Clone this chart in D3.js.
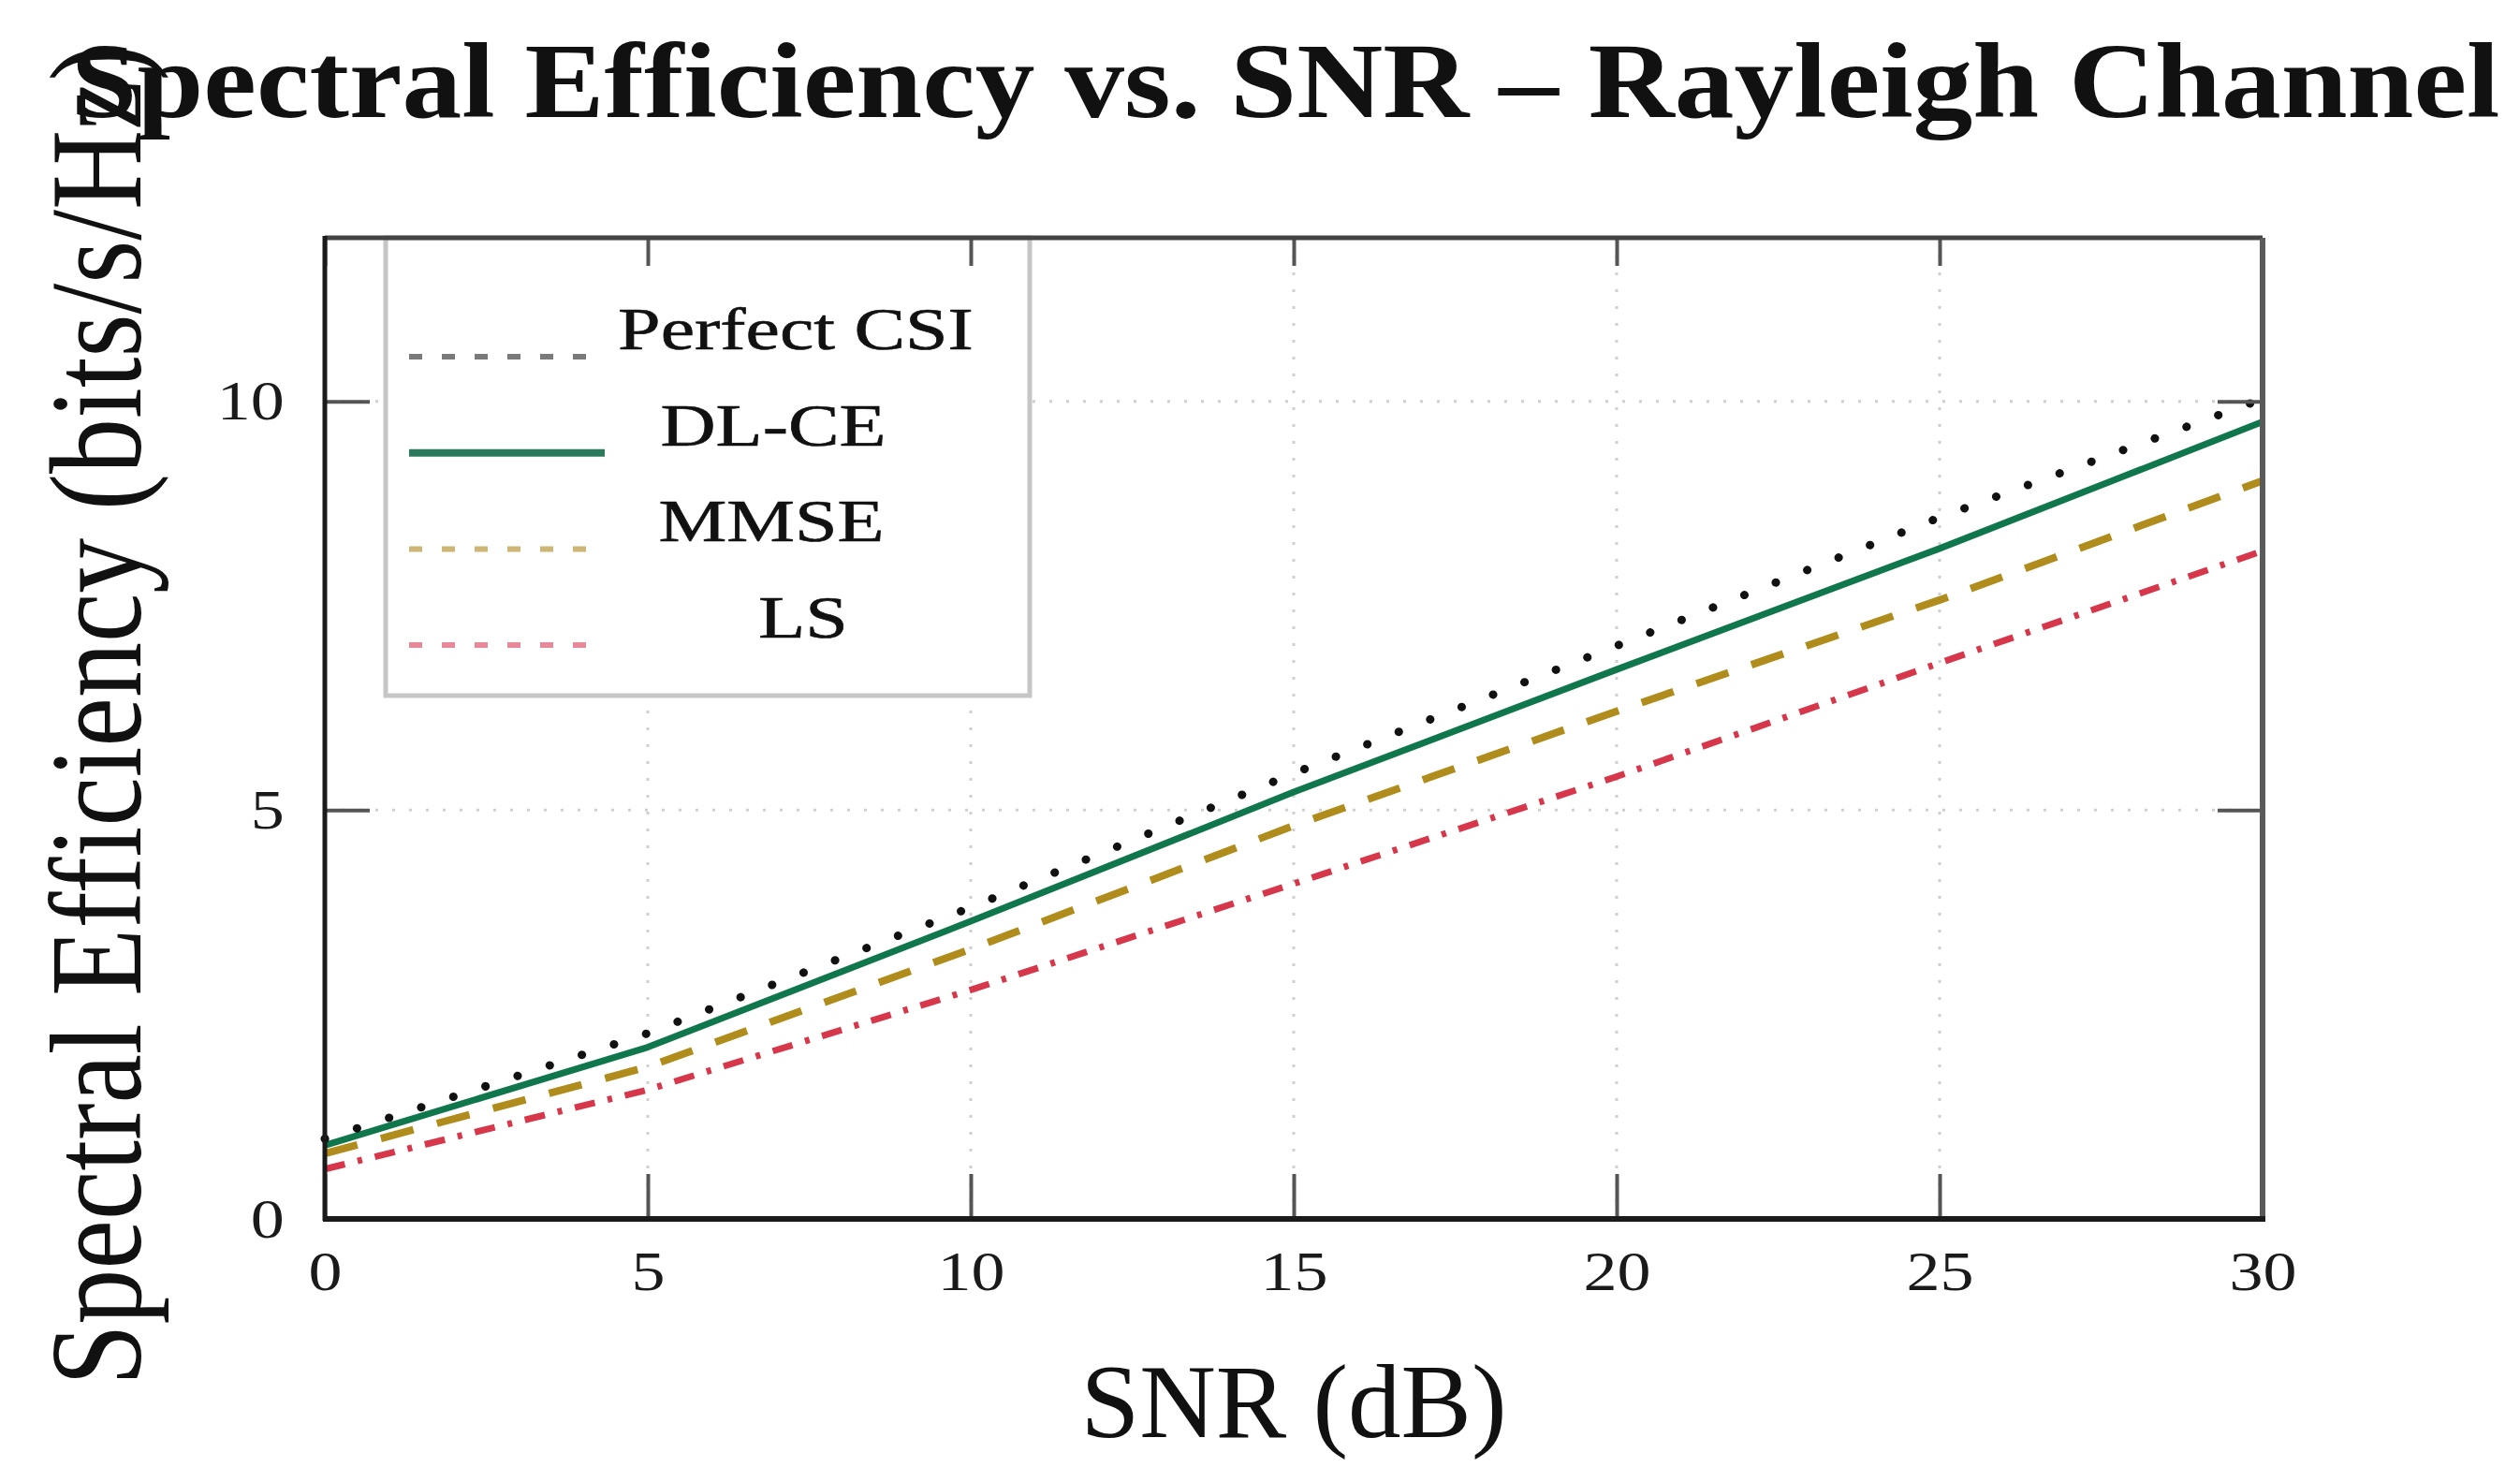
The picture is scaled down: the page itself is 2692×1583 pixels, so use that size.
<!DOCTYPE html>
<html>
<head>
<meta charset="utf-8">
<script src="https://cdn.jsdelivr.net/npm/d3@7"></script>
<style>
  html, body { margin: 0; padding: 0; background: #fff; }
  svg { display: block; }
</style>
</head>
<body>
<div id="chart"></div>
<script>
// data (SNR in dB, spectral efficiency in bits/s/Hz)
let snr = [0, 5, 10, 15, 20, 25, 30];
let perfect_csi = [0.98, 2.27, 3.81, 5.45, 7.01, 8.58, 10.03];
let dl_ce = [0.90, 2.10, 3.64, 5.22, 6.72, 8.20, 9.75];
let mmse = [0.80, 1.86, 3.30, 4.81, 6.21, 7.57, 9.03];
let ls = [0.61, 1.58, 2.80, 4.10, 5.41, 6.80, 8.17];

let series_names = ["Perfect CSI", "DL-CE", "MMSE", "LS"];
let x_ticks = [0, 5, 10, 15, 20, 25, 30];
let y_ticks = [0, 5, 10];

let title_text = "Spectral Efficiency vs. SNR \u2013 Rayleigh Channel";
let x_label = "SNR (dB)";
let y_label = "Spectral Efficiency (bits/s/Hz)";

let W = 2692, H = 1583;
let margin = {top: 254, right: 275, bottom: 281, left: 347};
let serif = "'Liberation Serif', 'Times New Roman', serif";

// line styles per series
let styles = [
  {color: "#111111", width: 9, dash: "0.1 36", cap: "round", legendColor: "#7a7a7a", legendDash: "14 21"},
  {color: "#10764c", width: 7, dash: null, cap: "butt", legendColor: "#2c7a5c", legendDash: null},
  {color: "#b08c1c", width: 8, dash: "36 26", cap: "butt", legendColor: "#cdb676", legendDash: "14 21"},
  {color: "#d7374a", width: 7, dash: "22 14 5 14", cap: "butt", legendColor: "#e8899a", legendDash: "14 21"}
];
// legend label centres (the labels are not quite aligned in the original)
let legend_text_x = [850, 826, 824, 858];

let svg = d3.select("#chart").append("svg")
  .attr("width", W).attr("height", H)
  .style("background", "#fff");

let x = d3.scaleLinear().domain([0, 30]).range([margin.left, W - margin.right]);
let y = d3.scaleLinear().domain([0, 12]).range([H - margin.bottom, margin.top]);

// dotted grid
let grid = svg.append("g");
grid.selectAll("line.gx").data(x_ticks.slice(1, -1)).enter().append("line")
  .attr("x1", d => x(d)).attr("x2", d => x(d))
  .attr("y1", y(0)).attr("y2", y(12))
  .attr("stroke", "#cfcfcf").attr("stroke-width", 3).attr("stroke-dasharray", "3 15");
grid.selectAll("line.gy").data(y_ticks.slice(1)).enter().append("line")
  .attr("x1", x(0)).attr("x2", x(30))
  .attr("y1", d => y(d)).attr("y2", d => y(d))
  .attr("stroke", "#cfcfcf").attr("stroke-width", 3).attr("stroke-dasharray", "3 15");

// curves
let all_series = [perfect_csi, dl_ce, mmse, ls];
let line = d3.line().x((d, i) => x(snr[i])).y(d => y(d));

// draw back to front: LS, MMSE, DL-CE, Perfect CSI
[3, 2, 1, 0].forEach(function(k) {
  let s = styles[k];
  svg.append("path")
    .datum(all_series[k])
    .attr("d", line)
    .attr("fill", "none")
    .attr("stroke", s.color)
    .attr("stroke-width", s.width)
    .attr("stroke-linecap", s.cap)
    .attr("stroke-linejoin", "round")
    .attr("stroke-dasharray", s.dash);
});

// legend
let legend = svg.append("g");
legend.append("rect")
  .attr("x", 412).attr("y", margin.top)
  .attr("width", 688).attr("height", 489)
  .attr("fill", "#fff").attr("stroke", "#c6c6c6").attr("stroke-width", 5);

series_names.forEach(function(name, i) {
  let s = styles[i];
  let ly = 381 + i * 102.7;
  legend.append("line")
    .attr("x1", 437).attr("x2", s.legendDash ? 629 : 646)
    .attr("y1", ly).attr("y2", ly)
    .attr("stroke", s.legendColor)
    .attr("stroke-width", s.legendDash ? 6 : 8)
    .attr("stroke-dasharray", s.legendDash);
  legend.append("g")
    .attr("transform", "translate(" + legend_text_x[i] + "," + (ly - 8) + ") scale(1.3,1)")
    .append("text")
    .attr("text-anchor", "middle")
    .attr("font-family", serif)
    .attr("font-size", 63)
    .attr("fill", "#111")
    .attr("stroke", "#111").attr("stroke-width", 0.6)
    .text(name);
});

// axes with inward ticks
function styleAxis(g, labels) {
  g.select(".domain").remove();
  g.selectAll(".tick line").attr("stroke", "#555").attr("stroke-width", 4);
  if (labels) {
    g.selectAll(".tick text")
      .style("font-family", serif)
      .style("font-size", "60px")
      .attr("fill", "#1a1a1a")
      .attr("transform", "scale(1.2,1)");
  }
}

svg.append("g")
  .attr("transform", "translate(0," + y(0) + ")")
  .call(d3.axisBottom(x).tickValues(x_ticks).tickSize(-48).tickPadding(33))
  .call(g => styleAxis(g, true));

svg.append("g")
  .attr("transform", "translate(" + x(0) + ",0)")
  .call(d3.axisLeft(y).tickValues(y_ticks).tickSize(-48).tickPadding(36))
  .call(g => styleAxis(g, true));

svg.append("g")
  .attr("transform", "translate(0," + y(12) + ")")
  .call(d3.axisTop(x).tickValues(x_ticks).tickSize(-30).tickFormat(""))
  .call(g => styleAxis(g, false));

svg.append("g")
  .attr("transform", "translate(" + x(30) + ",0)")
  .call(d3.axisRight(y).tickValues(y_ticks).tickSize(-48).tickFormat(""))
  .call(g => styleAxis(g, false));

// frame
svg.append("line").attr("x1", x(0)).attr("x2", x(30)).attr("y1", y(12)).attr("y2", y(12))
  .attr("stroke", "#444").attr("stroke-width", 5);
svg.append("line").attr("x1", x(30)).attr("x2", x(30)).attr("y1", y(12)).attr("y2", y(0))
  .attr("stroke", "#5a5a5a").attr("stroke-width", 6);
svg.append("line").attr("x1", x(0)).attr("x2", x(0)).attr("y1", y(12) - 2).attr("y2", y(0) + 2)
  .attr("stroke", "#1a1a1a").attr("stroke-width", 5);
svg.append("line").attr("x1", x(0) - 2).attr("x2", x(30) + 3).attr("y1", y(0)).attr("y2", y(0))
  .attr("stroke", "#1a1a1a").attr("stroke-width", 6);

// x label
svg.append("text")
  .attr("x", x(15)).attr("y", 1535)
  .attr("text-anchor", "middle")
  .attr("font-family", serif)
  .attr("font-size", 113)
  .attr("fill", "#111")
  .text(x_label);

// y label (rotated, stretched across)
svg.append("g")
  .attr("transform", "translate(150,1480) scale(1.18,1) rotate(-90)")
  .append("text")
  .attr("text-anchor", "start")
  .attr("font-family", serif)
  .attr("font-size", 118)
  .attr("fill", "#111")
  .text(y_label);

// title
svg.append("g")
  .attr("transform", "translate(1373,125) scale(1.118,1)")
  .append("text")
  .attr("text-anchor", "middle")
  .attr("font-family", serif)
  .attr("font-weight", "bold")
  .attr("font-size", 114)
  .attr("fill", "#111")
  .text(title_text);
</script>
</body>
</html>
